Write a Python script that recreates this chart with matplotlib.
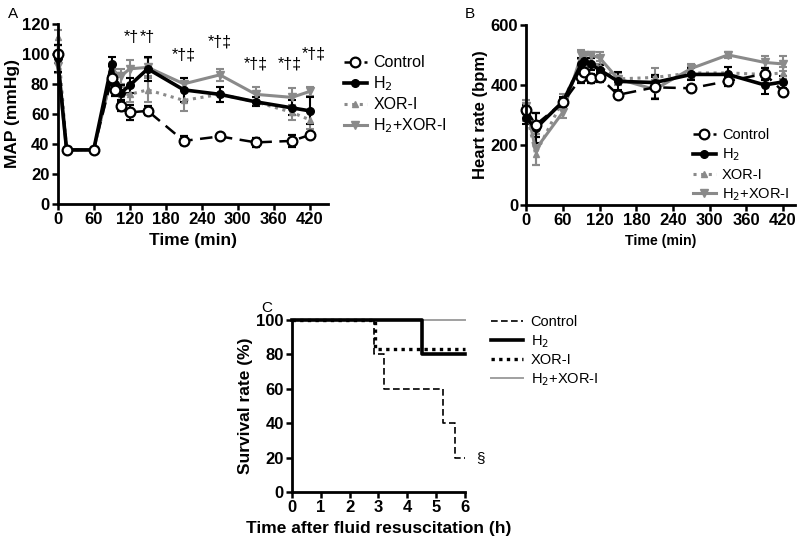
import matplotlib
matplotlib.use('Agg')
import matplotlib.pyplot as plt
import numpy as np

plt.rcParams['font.family'] = ['Liberation Sans', 'DejaVu Sans']

# ---- panel A : MAP (mmHg) ----
t = [0, 15, 60, 90, 95, 105, 120, 150, 210, 270, 330, 390, 420]
map_ctrl = [100, 36, 36, 84, 76, 65, 61, 62, 42, 45, 41, 42, 46]
map_ctrl_err = [6, 1, 1, 8, 4, 3, 5, 3, 3, 1, 3, 4, 1]
map_h2 = [97, 36, 36, 93, 80, 74, 79, 90, 76, 73, 68, 64, 62]
map_h2_err = [9, 1, 1, 5, 5, 5, 5, 8, 8, 5, 3, 5, 9]
map_xor = [111, 36, 36, 86, 80, 73, 73, 76, 69, 73, 68, 61, 56]
map_xor_err = [5, 1, 1, 5, 5, 5, 5, 8, 7, 5, 3, 5, 6]
map_hx = [92, 36, 36, 86, 85, 85, 90, 91, 80, 86, 73, 71, 75]
map_hx_err = [5, 1, 1, 5, 5, 5, 6, 6, 4, 4, 5, 6, 3]

sig_t = [122, 150, 210, 270, 330, 386, 426]
sig_y = [106, 106, 94, 103, 88, 88, 95]
sig_txt = ['*†', '*†', '*†‡', '*†‡', '*†‡', '*†‡', '*†‡']

# ---- panel B : heart rate (bpm) ----
hr_ctrl = [317, 267, 342, 425, 444, 422, 425, 367, 392, 389, 413, 437, 378]
hr_ctrl_err = [15, 40, 15, 20, 15, 15, 15, 10, 40, 10, 15, 20, 10]
hr_h2 = [290, 255, 345, 470, 480, 470, 450, 412, 408, 435, 435, 400, 410]
hr_h2_err = [20, 50, 15, 20, 20, 20, 15, 30, 20, 20, 25, 30, 20]
hr_xor = [310, 170, 350, 470, 470, 480, 460, 420, 425, 440, 440, 435, 440]
hr_xor_err = [30, 35, 20, 20, 20, 20, 20, 20, 30, 20, 20, 20, 20]
hr_hx = [330, 185, 310, 500, 500, 500, 490, 420, 385, 455, 500, 475, 470]
hr_hx_err = [20, 50, 20, 15, 10, 10, 20, 20, 30, 15, 10, 20, 25]

# ---- panel C : survival ----
surv_ctrl_t = [0, 2.84, 3.19, 5.25, 5.65, 6]
surv_ctrl = [100, 80, 60, 40, 20, 20]
surv_h2_t = [0, 4.5, 6]
surv_h2 = [100, 80, 80]
surv_xor_t = [0, 2.87, 6]
surv_xor = [100, 83, 83]
surv_hx_t = [0, 6]
surv_hx = [100, 100]

labels = ['Control', 'H$_2$', 'XOR-I', 'H$_2$+XOR-I']
gray = '#8a8a8a'

fig = plt.figure(figsize=(8, 5.41), dpi=100)
axA = fig.add_axes([0.072, 0.623, 0.338, 0.333])
axB = fig.add_axes([0.658, 0.621, 0.336, 0.333])
axC = fig.add_axes([0.365, 0.0906, 0.216, 0.318])


def style(ax):
    for s in ['top', 'right']:
        ax.spines[s].set_visible(False)
    for s in ['left', 'bottom']:
        ax.spines[s].set_linewidth(2)
    ax.tick_params(width=1.8, length=4, labelsize=12, pad=2)
    for lab in ax.get_xticklabels() + ax.get_yticklabels():
        lab.set_fontweight('bold')


def series(ax, y1, e1, y2, e2, y3, e3, y4, e4):
    kw = dict(capsize=3, elinewidth=1.5, capthick=1.5, clip_on=False)
    c4 = ax.errorbar(t, y4, yerr=e4, color=gray, lw=2.2, marker='v', ms=6,
                     label=labels[3], **kw)
    c3 = ax.errorbar(t, y3, yerr=e3, color=gray, lw=2.2, ls=(0, (1, 1.5)),
                     marker='^', ms=5, label=labels[2], **kw)
    c2 = ax.errorbar(t, y2, yerr=e2, color='black', lw=2.6, marker='o', ms=5.5,
                     label=labels[1], **kw)
    c1 = ax.errorbar(t, y1, yerr=e1, color='black', lw=1.8, ls=(0, (5, 3)),
                     marker='o', ms=7, mfc='white', mec='black', mew=1.6,
                     label=labels[0], **kw)
    return [c1[0], c2[0], c3[0], c4[0]]


# A
hA = series(axA, map_ctrl, map_ctrl_err, map_h2, map_h2_err, map_xor, map_xor_err,
            map_hx, map_hx_err)
axA.set_xlim(0, 450)
axA.set_ylim(0, 120)
axA.set_xticks(range(0, 421, 60))
axA.set_yticks(range(0, 121, 20))
style(axA)
axA.set_xlabel('Time (min)', fontsize=12.5, fontweight='bold')
axA.set_ylabel('MAP (mmHg)', fontsize=12.5, fontweight='bold', labelpad=1)
for x, y, s in zip(sig_t, sig_y, sig_txt):
    axA.text(x, y, s, ha='center', va='bottom', fontsize=11.5)
axA.legend(hA, labels, loc='upper left', bbox_to_anchor=(1.035, 0.86),
           frameon=False, fontsize=11.5, handlelength=1.45, handletextpad=0.4,
           labelspacing=0.25, borderaxespad=0)

# B
hB = series(axB, hr_ctrl, hr_ctrl_err, hr_h2, hr_h2_err, hr_xor, hr_xor_err,
            hr_hx, hr_hx_err)
axB.set_xlim(0, 440)
axB.set_ylim(0, 600)
axB.set_xticks(range(0, 421, 60))
axB.set_yticks(range(0, 601, 200))
style(axB)
axB.set_xlabel('Time (min)', fontsize=10.2, fontweight='bold')
axB.set_ylabel('Heart rate (bpm)', fontsize=12, fontweight='bold', labelpad=2)
axB.legend(hB, labels, loc='lower right', bbox_to_anchor=(1.0, -0.02),
           frameon=False, fontsize=10.5, handlelength=1.6, handletextpad=0.4,
           labelspacing=0.3, borderaxespad=0)

# C
axC.step(surv_ctrl_t, surv_ctrl, where='post', color='black', lw=1.2,
         ls=(0, (4, 2)), label=labels[0], clip_on=False)
axC.step(surv_h2_t, surv_h2, where='post', color='black', lw=2.6,
         label=labels[1], clip_on=False)
axC.step(surv_xor_t, surv_xor, where='post', color='black', lw=2.4,
         ls=(0, (1, 1.3)), label=labels[2], clip_on=False)
axC.step(surv_hx_t, surv_hx, where='post', color='#a0a0a0', lw=1.4,
         label=labels[3], clip_on=False, zorder=1)
axC.set_xlim(0, 6)
axC.set_ylim(0, 100)
axC.set_xticks(range(0, 7))
axC.set_yticks(range(0, 101, 20))
style(axC)
axC.set_xlabel('Time after fluid resuscitation (h)', fontsize=12.5,
               fontweight='bold')
axC.set_ylabel('Survival rate (%)', fontsize=12.5, fontweight='bold', labelpad=2)
axC.text(6.4, 20, '§', ha='left', va='center', fontsize=11)
axC.legend(loc='upper left', bbox_to_anchor=(1.12, 1.06), frameon=False,
           fontsize=10.5, handlelength=2.2, handletextpad=0.5, labelspacing=0.25,
           borderaxespad=0)

fig.text(0.01, 0.975, 'A', fontsize=11, va='center')
fig.text(0.581, 0.975, 'B', fontsize=11, va='center')
fig.text(0.327, 0.43, 'C', fontsize=11, va='center')

fig.savefig('out.png', dpi=100)
